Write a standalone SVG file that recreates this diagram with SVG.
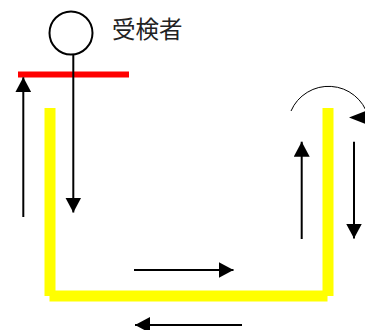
<svg xmlns="http://www.w3.org/2000/svg" width="365" height="330" viewBox="0 0 365 330">
  <style>
    .arr { stroke: #000; stroke-width: 2; fill: none; marker-end: url(#ah); }
    .yel { fill: #ffff00; }
    .lbl { font-family: "Noto Sans CJK JP", "Noto Sans", sans-serif; font-size: 23.5px; fill: #222; }
  </style>
  <defs>
    <marker id="ah" markerUnits="userSpaceOnUse" markerWidth="15" markerHeight="16" refX="15" refY="8" orient="auto" viewBox="0 0 15 16">
      <path d="M0,0 L15,8 L0,16 Z" fill="#000"/>
    </marker>
  </defs>
  <rect width="365" height="330" fill="#fff"/>

  <g id="track">
    <rect class="yel" x="44.5" y="108" width="11" height="188"/>
    <rect class="yel" x="49.5" y="290.5" width="278" height="11"/>
    <rect class="yel" x="322.5" y="108" width="11" height="188"/>
  </g>

  <g id="platform">
    <rect x="18" y="71.5" width="111" height="6" fill="#ff0000"/>
  </g>

  <g id="subject">
    <circle cx="71" cy="33" r="21.5" fill="#fff" stroke="#000" stroke-width="2"/>
    <text class="lbl" x="112" y="38">受検者</text>
  </g>

  <g id="connectors">
    <line class="arr" x1="73.3" y1="54.5" x2="73.3" y2="212.5"/>
    <line class="arr" x1="23.3" y1="217" x2="23.3" y2="77.3"/>
    <line class="arr" x1="301.7" y1="239" x2="301.7" y2="141.7"/>
    <line class="arr" x1="354" y1="141.7" x2="354" y2="238.5"/>
    <line class="arr" x1="134" y1="270" x2="233.5" y2="270"/>
    <line class="arr" x1="242" y1="325" x2="135" y2="325"/>
    <path d="M291,111 A41,41 0 0 1 368,116" fill="none" stroke="#000" stroke-width="1"/>
    <path d="M349,117.5 L367,110.5 L367,124.5 Z" fill="#000"/>
  </g>
</svg>
